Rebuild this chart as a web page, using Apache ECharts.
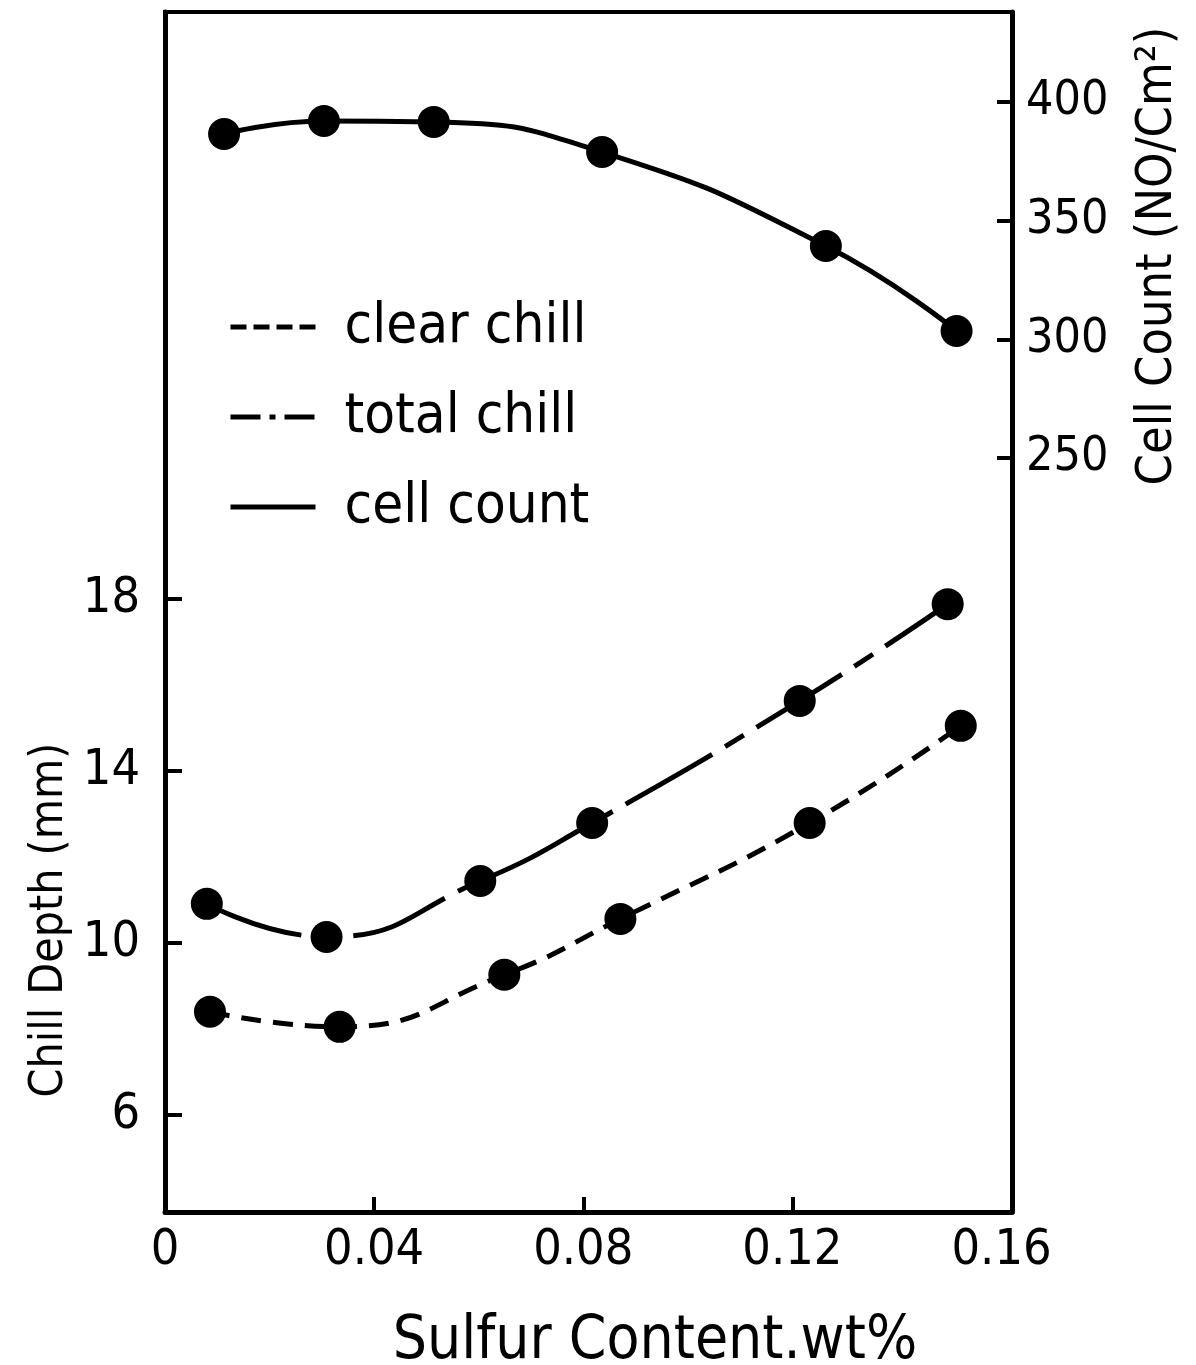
<!DOCTYPE html>
<html>
<head>
<meta charset="utf-8">
<script src="https://cdn.jsdelivr.net/npm/echarts@6/dist/echarts.min.js"></script>
<style>
  html, body { margin: 0; padding: 0; background: #fff; }
  #chart { width: 1196px; height: 1365px; }
</style>
</head>
<body>
<div id="chart"></div>
<script>
// values
const sulfurClear = [0.0086, 0.0334, 0.0649, 0.0871, 0.1233, 0.1522]
const clearChill = [8.40, 8.05, 9.26, 10.56, 12.79, 15.05]
const sulfurTotal = [0.0080, 0.0309, 0.0603, 0.0817, 0.1214, 0.1497]
const totalChill = [10.91, 10.14, 11.44, 12.79, 15.63, 17.88]
const sulfurCell = [0.0113, 0.0304, 0.0514, 0.0836, 0.1264, 0.1514]
const cellCount = [386.5, 392.0, 391.6, 378.9, 339.3, 303.5]

const xTicks = [0, 0.04, 0.08, 0.12, 0.16]
const depthTicks = [6, 10, 14, 18]
const countTicks = [250, 300, 350, 400]

const textFont = "'DejaVu Sans Condensed', 'DejaVu Sans', sans-serif"

function pairs(xs, ys) {
    return xs.map((x, i) => [x, ys[i]])
}

let chart = echarts.init(document.getElementById('chart'))
chart.setOption({
    animation: false,
    backgroundColor: '#fff',
    grid: {
        left: 165,
        right: 184,
        top: 12,
        bottom: 153,
        show: true,
        borderColor: '#000',
        borderWidth: 4,
        outerBoundsMode: 'none'
    },
    legend: {
        orient: 'vertical',
        left: 223,
        top: 294,
        itemWidth: 85,
        itemHeight: 20,
        itemGap: 34,
        selectedMode: false,
        itemStyle: { opacity: 0 },
        textStyle: {
            fontFamily: textFont,
            fontSize: 56,
            color: '#000',
            padding: [0, 0, 0, 24]
        },
        data: [
            { name: 'clear chill', lineStyle: { type: [16, 7], width: 5 } },
            { name: 'total chill', lineStyle: { type: [30, 9, 6, 9], width: 5 } },
            { name: 'cell count', lineStyle: { type: 'solid', width: 5 } }
        ]
    },
    xAxis: {
        type: 'value',
        min: 0,
        max: 0.162,
        name: 'Sulfur Content.wt%',
        nameLocation: 'middle',
        nameGap: 100,
        nameTextStyle: {
            fontFamily: textFont,
            fontSize: 60,
            color: '#000',
            padding: [0, 0, 0, 133]
        },
        splitLine: { show: false },
        axisLine: { onZero: false, lineStyle: { color: '#000', width: 5 } },
        axisTick: {
            inside: true,
            length: 15,
            customValues: [0.04, 0.08, 0.12],
            lineStyle: { color: '#000', width: 4 }
        },
        axisLabel: {
            customValues: xTicks,
            margin: 14,
            fontFamily: textFont,
            fontSize: 50,
            color: '#000',
            formatter: v => v === 0 ? '0' : v.toFixed(2)
        }
    },
    yAxis: [
        {
            type: 'value',
            position: 'left',
            min: 3.744,
            max: 31.65,
            splitLine: { show: false },
            axisLine: { show: true, onZero: false, lineStyle: { color: '#000', width: 5 } },
            axisTick: {
                inside: true,
                length: 17,
                customValues: depthTicks,
                lineStyle: { color: '#000', width: 4 }
            },
            axisLabel: {
                customValues: depthTicks,
                margin: 25,
                fontFamily: textFont,
                fontSize: 50,
                color: '#000'
            }
        },
        {
            type: 'value',
            position: 'right',
            min: -67.7,
            max: 437.9,
            splitLine: { show: false },
            axisLine: { show: true, onZero: false, lineStyle: { color: '#000', width: 5 } },
            axisTick: {
                inside: true,
                length: 15,
                customValues: countTicks,
                lineStyle: { color: '#000', width: 4 }
            },
            axisLabel: {
                customValues: countTicks,
                margin: 14,
                fontFamily: textFont,
                fontSize: 48,
                color: '#000'
            }
        }
    ],
    graphic: [
        {
            type: 'text',
            x: 50,
            y: 920,
            rotation: Math.PI / 2,
            style: {
                text: 'Chill Depth (mm)',
                fontFamily: textFont,
                fontSize: 46,
                fill: '#000',
                align: 'center',
                verticalAlign: 'middle'
            }
        },
        {
            type: 'text',
            x: 1158,
            y: 256,
            rotation: Math.PI / 2,
            style: {
                text: 'Cell Count (NO/Cm²)',
                fontFamily: textFont,
                fontSize: 50,
                fill: '#000',
                align: 'center',
                verticalAlign: 'middle'
            }
        }
    ],
    series: [
        {
            name: 'clear chill',
            type: 'line',
            yAxisIndex: 0,
            smooth: true,
            symbol: 'circle',
            symbolSize: 32,
            itemStyle: { color: '#000' },
            lineStyle: { color: '#000', width: 5, type: [20, 12] },
            data: pairs(sulfurClear, clearChill)
        },
        {
            name: 'total chill',
            type: 'line',
            yAxisIndex: 0,
            smooth: true,
            symbol: 'circle',
            symbolSize: 32,
            itemStyle: { color: '#000' },
            lineStyle: { color: '#000', width: 5, type: [100, 15, 22, 15] },
            data: pairs(sulfurTotal, totalChill)
        },
        {
            name: 'cell count',
            type: 'line',
            yAxisIndex: 1,
            smooth: true,
            symbol: 'circle',
            symbolSize: 32,
            itemStyle: { color: '#000' },
            lineStyle: { color: '#000', width: 5 },
            data: pairs(sulfurCell, cellCount)
        }
    ]
})
</script>
</body>
</html>
